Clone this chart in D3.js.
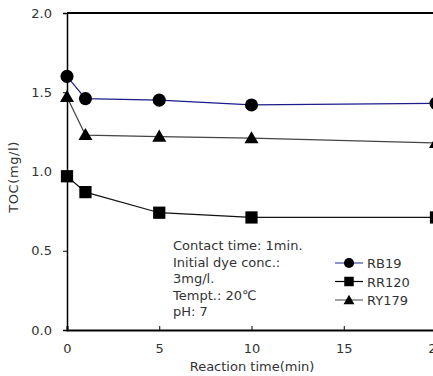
<!DOCTYPE html>
<html>
<head>
<meta charset="utf-8">
<script src="https://cdn.jsdelivr.net/npm/d3@7"></script>
<style>
  body { margin: 0px; padding: 0px; background: #fff; }
  svg { display: block; }
  text { font-family: "DejaVu Sans", sans-serif; fill: #333; }
</style>
</head>
<body>
<div id="svg_cont"></div>
<script>

// data
var times = [0, 1, 5, 10, 20];
var rb19  = [1.60, 1.46, 1.45, 1.42, 1.43];
var rr120 = [0.97, 0.87, 0.74, 0.71, 0.71];
var ry179 = [1.47, 1.23, 1.22, 1.21, 1.18];
var series_names = ['RB19', 'RR120', 'RY179'];
var x_ticks = [0, 5, 10, 15, 20];
var y_ticks = [0, 0.5, 1.0, 1.5, 2.0];
var note_lines = ['Contact time: 1min.', 'Initial dye conc.:', '3mg/l.', 'Tempt.: 20\u2103', 'pH: 7'];

var w = 433, h = 376;
var margin = {left: 67, top: 13, bottom: 46};
var plot_right = 436;   // the x=20 edge sits just outside the picture

var svg_main = d3.select('#svg_cont').append('svg')
  .attr('width', w)
  .attr('height', h);

var x = d3.scaleLinear().domain([0, 20]).range([margin.left, plot_right]);
var y = d3.scaleLinear().domain([0, 2]).range([h - margin.bottom, margin.top]);

var series = [
  {name: series_names[0], vals: rb19,  line: '#1c1c8a', shape: d3.symbolCircle},
  {name: series_names[1], vals: rr120, line: '#111',    shape: d3.symbolSquare},
  {name: series_names[2], vals: ry179, line: '#444',    shape: d3.symbolTriangle}
];
var sym_size = {'RB19': 135, 'RR120': 150, 'RY179': 85};

// top frame line
svg_main.append('line')
  .attr('x1', x(0)).attr('x2', plot_right)
  .attr('y1', y(2)).attr('y2', y(2))
  .attr('stroke', '#000').attr('stroke-width', 2);

// axes
var y_axis = svg_main.append('g')
  .attr('transform', 'translate(' + x(0) + ',0)')
  .call(d3.axisLeft(y).tickValues(y_ticks).tickFormat(d3.format('.1f')).tickSize(4).tickPadding(11));
y_axis.select('.domain').attr('stroke-width', 1.5);

var x_axis = svg_main.append('g')
  .attr('transform', 'translate(0,' + y(0) + ')')
  .call(d3.axisBottom(x).tickValues(x_ticks).tickFormat(d3.format('d')).tickSize(-4).tickPadding(14));
x_axis.select('.domain').attr('stroke-width', 2);

svg_main.selectAll('.tick text')
  .style('font-size', '13px')
  .style('font-family', '"DejaVu Sans", sans-serif')
  .attr('fill', '#333');

svg_main.append('text')
  .attr('x', 252)
  .attr('y', 371)
  .attr('text-anchor', 'middle')
  .style('font-size', '13px')
  .text('Reaction time(min)');

svg_main.append('text')
  .attr('transform', 'translate(18,177) rotate(-90)')
  .attr('text-anchor', 'middle')
  .style('font-size', '13px')
  .style('letter-spacing', '0.6px')
  .text('TOC(mg/l)');

// lines and markers
var line_gen = d3.line()
  .x((d, i) => x(times[i]))
  .y(d => y(d));

series.forEach(function(s) {
  svg_main.append('path')
    .attr('d', line_gen(s.vals))
    .attr('fill', 'none')
    .attr('stroke', s.line)
    .attr('stroke-width', 1.2);

  svg_main.selectAll(null)
    .data(s.vals)
    .enter().append('path')
      .attr('d', d3.symbol().type(s.shape).size(sym_size[s.name]))
      .attr('transform', (d, i) => 'translate(' + x(times[i]) + ',' + (y(d) + (s.shape === d3.symbolTriangle ? 1 : 0)) + ')')
      .attr('fill', '#000');
});

// conditions note
svg_main.append('g').selectAll('text')
  .data(note_lines)
  .enter().append('text')
    .attr('x', 173)
    .attr('y', (d, i) => 250 + i * 16.5)
    .style('font-size', '13px')
    .text(d => d);

// legend
var leg = svg_main.append('g').attr('transform', 'translate(335,263)');
series.forEach(function(s, i) {
  var row = leg.append('g').attr('transform', 'translate(0,' + (i * 18.5) + ')');
  row.append('line')
    .attr('x1', 0).attr('x2', 28)
    .attr('stroke', i === 0 ? '#4a4aa8' : (i === 2 ? '#666' : '#000')).attr('stroke-width', 1.2);
  row.append('path')
    .attr('d', d3.symbol().type(s.shape).size(sym_size[s.name] * 0.6))
    .attr('transform', 'translate(14,' + (s.shape === d3.symbolTriangle ? 1 : 0) + ')')
    .attr('fill', '#000');
  row.append('text')
    .attr('x', 32)
    .attr('y', 5)
    .style('font-size', '13px')
    .text(s.name);
});

</script>
</body>
</html>
